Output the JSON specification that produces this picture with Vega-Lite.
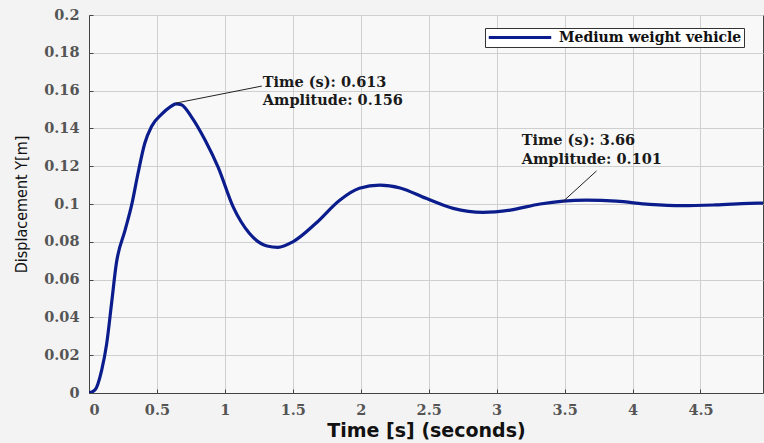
{
  "$schema": "https://vega.github.io/schema/vega-lite/v6.json",
  "autosize": {"type": "none"},
  "width": 674,
  "height": 378,
  "padding": {"left": 89, "top": 15, "right": 1, "bottom": 50},
  "background": "#f3f3f3",
  "config": {
    "view": {"stroke": "#444", "strokeWidth": 1, "fill": "#f8f8f8"},
    "axis": {
      "labelFont": "DejaVu Serif",
      "labelFontSize": 14.5,
      "labelFontWeight": "bold",
      "labelColor": "#555",
      "labelOverlap": false,
      "gridColor": "#cfcfcf",
      "gridWidth": 1,
      "domainColor": "#444",
      "tickColor": "#444",
      "tickSize": -4
    }
  },
  "datasets": {
    "curve": [
      {"t": 0, "y": 0, "series": "Medium weight vehicle"},
      {"t": 0.044, "y": 0.0016, "series": "Medium weight vehicle"},
      {"t": 0.093, "y": 0.012, "series": "Medium weight vehicle"},
      {"t": 0.13, "y": 0.026, "series": "Medium weight vehicle"},
      {"t": 0.167, "y": 0.048, "series": "Medium weight vehicle"},
      {"t": 0.2, "y": 0.068, "series": "Medium weight vehicle"},
      {"t": 0.265, "y": 0.086, "series": "Medium weight vehicle"},
      {"t": 0.314, "y": 0.0995, "series": "Medium weight vehicle"},
      {"t": 0.36, "y": 0.116, "series": "Medium weight vehicle"},
      {"t": 0.41, "y": 0.132, "series": "Medium weight vehicle"},
      {"t": 0.46, "y": 0.141, "series": "Medium weight vehicle"},
      {"t": 0.535, "y": 0.1475, "series": "Medium weight vehicle"},
      {"t": 0.6, "y": 0.1515, "series": "Medium weight vehicle"},
      {"t": 0.64, "y": 0.153, "series": "Medium weight vehicle"},
      {"t": 0.68, "y": 0.1525, "series": "Medium weight vehicle"},
      {"t": 0.755, "y": 0.146, "series": "Medium weight vehicle"},
      {"t": 0.853, "y": 0.134, "series": "Medium weight vehicle"},
      {"t": 0.95, "y": 0.1195, "series": "Medium weight vehicle"},
      {"t": 1.06, "y": 0.0986, "series": "Medium weight vehicle"},
      {"t": 1.18, "y": 0.0845, "series": "Medium weight vehicle"},
      {"t": 1.31, "y": 0.0778, "series": "Medium weight vehicle"},
      {"t": 1.39, "y": 0.0771, "series": "Medium weight vehicle"},
      {"t": 1.5, "y": 0.080, "series": "Medium weight vehicle"},
      {"t": 1.67, "y": 0.0898, "series": "Medium weight vehicle"},
      {"t": 1.845, "y": 0.102, "series": "Medium weight vehicle"},
      {"t": 1.99, "y": 0.1083, "series": "Medium weight vehicle"},
      {"t": 2.14, "y": 0.110, "series": "Medium weight vehicle"},
      {"t": 2.29, "y": 0.1085, "series": "Medium weight vehicle"},
      {"t": 2.48, "y": 0.103, "series": "Medium weight vehicle"},
      {"t": 2.68, "y": 0.0977, "series": "Medium weight vehicle"},
      {"t": 2.9, "y": 0.0956, "series": "Medium weight vehicle"},
      {"t": 3.1, "y": 0.0968, "series": "Medium weight vehicle"},
      {"t": 3.32, "y": 0.100, "series": "Medium weight vehicle"},
      {"t": 3.49, "y": 0.1015, "series": "Medium weight vehicle"},
      {"t": 3.66, "y": 0.102, "series": "Medium weight vehicle"},
      {"t": 3.88, "y": 0.1015, "series": "Medium weight vehicle"},
      {"t": 4.125, "y": 0.0998, "series": "Medium weight vehicle"},
      {"t": 4.37, "y": 0.0991, "series": "Medium weight vehicle"},
      {"t": 4.61, "y": 0.0995, "series": "Medium weight vehicle"},
      {"t": 4.86, "y": 0.1003, "series": "Medium weight vehicle"},
      {"t": 4.96, "y": 0.1005, "series": "Medium weight vehicle"}
    ],
    "leaders": [
      {"t": 0.64, "y": 0.1534, "t2": 1.272, "y2": 0.1624},
      {"t": 3.485, "y": 0.1011, "t2": 3.735, "y2": 0.1175}
    ],
    "notes": [
      {"t": 1.279, "y": 0.1641, "label": "Time (s): 0.613"},
      {"t": 1.279, "y": 0.1543, "label": "Amplitude: 0.156"},
      {"t": 3.184, "y": 0.1333, "label": "Time (s): 3.66"},
      {"t": 3.184, "y": 0.1235, "label": "Amplitude: 0.101"}
    ]
  },
  "layer": [
    {
      "data": {"name": "curve"},
      "mark": {"type": "line", "strokeWidth": 3.2, "interpolate": "monotone", "clip": true},
      "encoding": {
        "x": {
          "field": "t", "type": "quantitative",
          "scale": {"domain": [0, 4.96], "nice": false, "zero": false},
          "axis": {
            "values": [0, 0.5, 1, 1.5, 2, 2.5, 3, 3.5, 4, 4.5],
            "tickCount": 20,
            "format": "~g",
            "title": "Time [s] (seconds)",
            "titleFont": "DejaVu Sans",
            "titleFontSize": 19,
            "titleFontWeight": "bold",
            "titleColor": "#111",
            "titlePadding": 5,
            "labelPadding": 14
          }
        },
        "y": {
          "field": "y", "type": "quantitative",
          "scale": {"domain": [0, 0.2], "nice": false},
          "axis": {
            "values": [0, 0.02, 0.04, 0.06, 0.08, 0.1, 0.12, 0.14, 0.16, 0.18, 0.2],
            "tickCount": 20,
            "format": "~g",
            "title": "Displacement Y[m]",
            "titleFont": "DejaVu Sans Condensed, Liberation Sans",
            "titleFontSize": 16,
            "titleFontWeight": "normal",
            "titleColor": "#111",
            "titlePadding": 14,
            "labelPadding": 14
          }
        },
        "color": {
          "field": "series", "type": "nominal",
          "scale": {"range": ["#0b1c8c"]},
          "legend": {
            "title": null,
            "orient": "none",
            "legendX": 396,
            "legendY": 13,
            "direction": "vertical",
            "strokeColor": "#333",
            "fillColor": "#ffffff",
            "padding": 2,
            "symbolType": "stroke",
            "symbolSize": 3900,
            "clipHeight": 15,
            "symbolStrokeWidth": 3.2,
            "labelFont": "DejaVu Serif",
            "labelFontSize": 14,
            "labelFontWeight": "bold",
            "labelColor": "#111",
            "labelLimit": 400,
            "labelOffset": 6
          }
        }
      }
    },
    {
      "data": {"name": "leaders"},
      "mark": {"type": "rule", "color": "#222", "strokeWidth": 1},
      "encoding": {
        "x": {"field": "t", "type": "quantitative"},
        "y": {"field": "y", "type": "quantitative"},
        "x2": {"field": "t2"},
        "y2": {"field": "y2"}
      }
    },
    {
      "data": {"name": "notes"},
      "mark": {"type": "text", "align": "left", "baseline": "middle", "font": "DejaVu Serif", "fontSize": 14.5, "fontWeight": "bold", "color": "#1a1a1a"},
      "encoding": {
        "x": {"field": "t", "type": "quantitative"},
        "y": {"field": "y", "type": "quantitative"},
        "text": {"field": "label"}
      }
    }
  ]
}
